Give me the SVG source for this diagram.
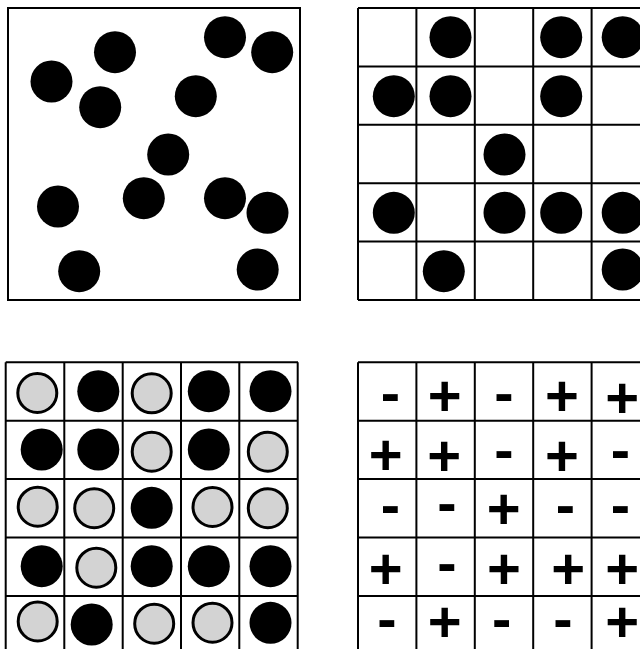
<svg xmlns="http://www.w3.org/2000/svg" width="640" height="649" viewBox="0 0 640 649">
<style>
.frame{fill:#fff;stroke:#000;stroke-width:2}
.grid{fill:none;stroke:#000;stroke-width:2}
.b{fill:#000}
.g{fill:#d3d3d3;stroke:#000;stroke-width:3}
.s{font-family:"Liberation Sans",Arial,sans-serif;font-weight:bold;font-size:58px;text-anchor:middle;fill:#000}
</style>
<rect width="640" height="649" fill="#fff"/>
<g id="panel-random">
<rect class="frame" x="8" y="8" width="292" height="292"/>
<circle class="b" cx="115" cy="52.2" r="21"/>
<circle class="b" cx="225" cy="37.2" r="21"/>
<circle class="b" cx="272.2" cy="52.2" r="21"/>
<circle class="b" cx="51.5" cy="81.5" r="21"/>
<circle class="b" cx="100.2" cy="107.2" r="21"/>
<circle class="b" cx="195.8" cy="96.2" r="21"/>
<circle class="b" cx="168.2" cy="154.5" r="21"/>
<circle class="b" cx="58" cy="206.5" r="21"/>
<circle class="b" cx="143.8" cy="198.2" r="21"/>
<circle class="b" cx="225" cy="198.2" r="21"/>
<circle class="b" cx="267.5" cy="212.8" r="21"/>
<circle class="b" cx="79.2" cy="271.2" r="21"/>
<circle class="b" cx="257.7" cy="269.5" r="21"/>
</g>
<g id="panel-lattice">
<path class="grid" d="M358 8H650M358 66.4H650M358 124.8H650M358 183.2H650M358 241.6H650M358 300H650M358 8V300M416.4 8V300M474.8 8V300M533.2 8V300M591.6 8V300"/>
<circle class="b" cx="450.5" cy="37.2" r="21"/>
<circle class="b" cx="561.2" cy="37.2" r="21"/>
<circle class="b" cx="622.7" cy="37.2" r="21"/>
<circle class="b" cx="393.8" cy="96.2" r="21"/>
<circle class="b" cx="450.5" cy="96.2" r="21"/>
<circle class="b" cx="561.2" cy="96.2" r="21"/>
<circle class="b" cx="504.5" cy="154.5" r="21"/>
<circle class="b" cx="393.8" cy="212.8" r="21"/>
<circle class="b" cx="504.5" cy="212.8" r="21"/>
<circle class="b" cx="561.2" cy="212.8" r="21"/>
<circle class="b" cx="622.7" cy="212.8" r="21"/>
<circle class="b" cx="443.8" cy="271.2" r="21"/>
<circle class="b" cx="622.7" cy="269.5" r="21"/>
</g>
<g id="panel-two-species">
<path class="grid" d="M5.7 362.3H298M5.7 420.7H298M5.7 479.1H298M5.7 537.5H298M5.7 595.9H298M5.7 362.3V654M64.3 362.3V654M122.7 362.3V654M181 362.3V654M239.3 362.3V654M297.7 362.3V654"/>
<circle class="g" cx="37.3" cy="393" r="19.5"/>
<circle class="b" cx="98.3" cy="391.2" r="21"/>
<circle class="g" cx="151.7" cy="393.3" r="19.5"/>
<circle class="b" cx="208.8" cy="391.2" r="21"/>
<circle class="b" cx="270.5" cy="391.2" r="21"/>
<circle class="b" cx="41.7" cy="449.5" r="21"/>
<circle class="b" cx="98.3" cy="449.5" r="21"/>
<circle class="g" cx="151.7" cy="451.7" r="19.5"/>
<circle class="b" cx="208.8" cy="449.5" r="21"/>
<circle class="g" cx="267.8" cy="451.7" r="19.5"/>
<circle class="g" cx="37.7" cy="506.7" r="19.5"/>
<circle class="g" cx="94.2" cy="508.2" r="19.5"/>
<circle class="b" cx="151.7" cy="507.8" r="21"/>
<circle class="g" cx="212.5" cy="507" r="19.5"/>
<circle class="g" cx="267.8" cy="508.2" r="19.5"/>
<circle class="b" cx="41.7" cy="566.2" r="21"/>
<circle class="g" cx="96.3" cy="567.7" r="19.5"/>
<circle class="b" cx="151.7" cy="566.2" r="21"/>
<circle class="b" cx="208.8" cy="566.2" r="21"/>
<circle class="b" cx="270.5" cy="566.2" r="21"/>
<circle class="g" cx="37.7" cy="621.5" r="19.5"/>
<circle class="b" cx="91.7" cy="624.5" r="21"/>
<circle class="g" cx="154.2" cy="623.7" r="19.5"/>
<circle class="g" cx="212.5" cy="622.7" r="19.5"/>
<circle class="b" cx="270.5" cy="622.8" r="21"/>
</g>
<g id="panel-spins">
<path class="grid" d="M358 362.3H650M358 420.7H650M358 479.1H650M358 537.5H650M358 595.9H650M358 362.3V654M416.4 362.3V654M474.8 362.3V654M533.2 362.3V654M591.6 362.3V654"/>
<text class="s" x="390.5" y="413">-</text>
<text class="s" x="444.7" y="416.3">+</text>
<text class="s" x="503.8" y="413">-</text>
<text class="s" x="562" y="416.3">+</text>
<text class="s" x="622.2" y="418">+</text>
<text class="s" x="385.7" y="474.6">+</text>
<text class="s" x="444.3" y="476">+</text>
<text class="s" x="503.8" y="470.3">-</text>
<text class="s" x="562" y="476">+</text>
<text class="s" x="620.5" y="470.3">-</text>
<text class="s" x="390.5" y="525">-</text>
<text class="s" x="446.8" y="522.5">-</text>
<text class="s" x="503.7" y="529.3">+</text>
<text class="s" x="565.5" y="525">-</text>
<text class="s" x="620.5" y="525">-</text>
<text class="s" x="385.7" y="588.6">+</text>
<text class="s" x="446.8" y="582.8">-</text>
<text class="s" x="504" y="588.6">+</text>
<text class="s" x="568.3" y="588.6">+</text>
<text class="s" x="622.2" y="588.6">+</text>
<text class="s" x="386.8" y="639.1">-</text>
<text class="s" x="444.7" y="642.3">+</text>
<text class="s" x="501.7" y="639.1">-</text>
<text class="s" x="562.8" y="639.1">-</text>
<text class="s" x="622.2" y="642.3">+</text>
</g>
</svg>
